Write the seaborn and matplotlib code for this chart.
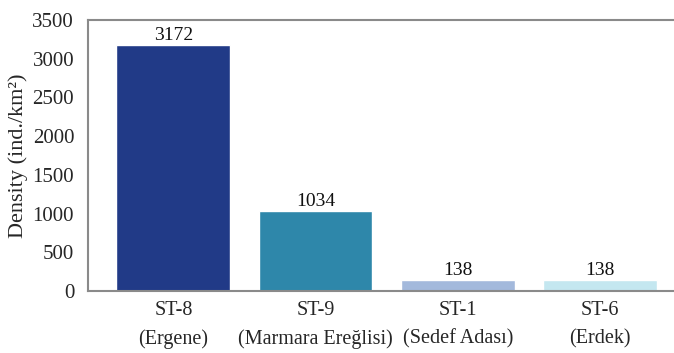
import matplotlib
matplotlib.use("Agg")
import matplotlib.pyplot as plt
import seaborn as sns
import pandas as pd

stations = ["ST-8\n(Ergene)", "ST-9\n(Marmara Ereğlisi)", "ST-1\n(Sedef Adası)", "ST-6\n(Erdek)"]
density = [3172, 1034, 138, 138]
bar_colors = ["#213a87", "#2e87aa", "#a3b9dc", "#c4e7f0"]
yticks = [0, 500, 1000, 1500, 2000, 2500, 3000, 3500]

sns.set_theme(style="white")
plt.rcParams["font.family"] = ["Liberation Serif", "DejaVu Serif"]

df = pd.DataFrame({"station": stations, "density": density})

fig = plt.figure(figsize=(6.74, 3.53), dpi=100)
ax = fig.add_axes([0.1306, 0.1756, 0.8694, 0.7677])

sns.barplot(data=df, x="station", y="density", hue="station",
            palette=bar_colors, width=0.8, legend=False, ax=ax,
            saturation=1)

for i, v in enumerate(density):
    ax.text(i, v + 15, str(v), ha="center", va="bottom", fontsize=14, color="#111111")

ax.set_ylim(0, 3500)
ax.set_xlim(-0.6, 3.52)
ax.set_yticks(yticks)
ax.set_yticklabels([str(t) for t in yticks], fontsize=15)
ax.tick_params(axis="x", labelsize=14.5, length=5, color="#808080", direction="out", pad=2)
ax.tick_params(axis="y", length=5, color="#808080", direction="out", pad=5)
for lbl in ax.get_xticklabels():
    lbl.set_linespacing(1.65)
ax.set_xlabel("")
ax.set_ylabel("Density (ind./km²)", fontsize=16, labelpad=3)

for side in ["left", "bottom", "top"]:
    ax.spines[side].set_visible(True)
    ax.spines[side].set_color("#8a8a8a")
    ax.spines[side].set_linewidth(1.5)
ax.spines["right"].set_visible(False)

fig.savefig("out.png", dpi=100)
